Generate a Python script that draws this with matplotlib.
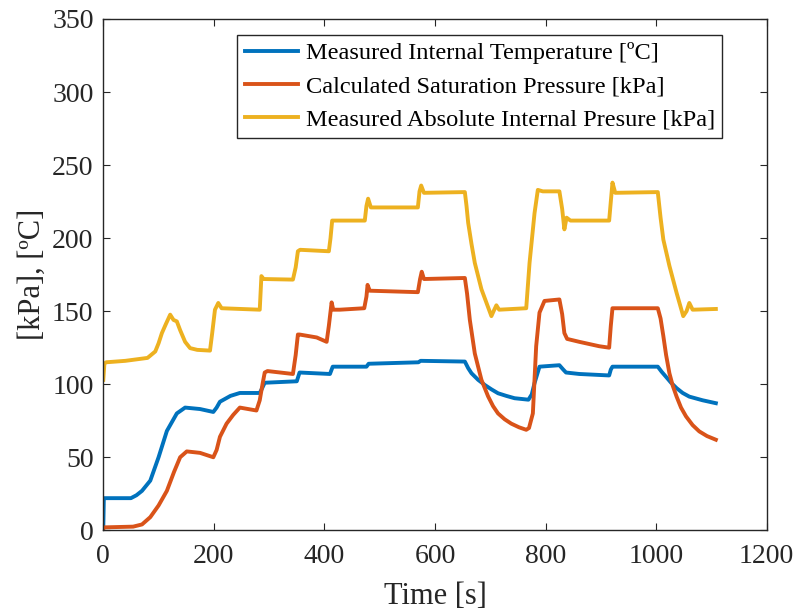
import matplotlib
matplotlib.use("Agg")
import matplotlib.pyplot as plt

# ---- data ----
t_temp = [0, 1, 50, 60, 70, 85, 100, 115, 133, 148, 175, 199, 205, 211, 230, 247, 283, 287, 292,
          350, 355, 410, 415, 476, 480, 570, 574, 654, 660, 666, 678, 690, 702, 714, 729, 744, 769,
          775, 780, 789, 825, 832, 837, 861, 915, 918, 921, 1003, 1010, 1018, 1027, 1037, 1048,
          1060, 1084, 1108]
temp = [2, 22, 22, 24, 27, 34, 50, 68, 80, 84, 83, 81, 84, 88, 92, 94, 94, 97, 101,
        102, 108, 107, 112, 112, 114, 115, 116, 115.5, 111, 107.5, 103, 99.5, 96.5, 93.8, 92, 90.4, 89.4,
        93, 100.7, 112, 113, 110, 108, 107, 106, 110, 112, 112, 108.5, 105, 101, 97.3, 94,
        91.5, 89, 87]

t_sat = [0, 1, 54, 70, 85, 100, 115, 128, 139, 151, 175, 199, 205, 211, 223, 235, 247, 277, 283,
         288, 292, 297, 343, 348, 352, 355, 386, 404, 408, 413, 416, 428, 472, 476, 478, 482, 569,
         573, 576, 580, 654, 658, 663, 672, 684, 696, 705, 714, 726, 738, 752, 765, 770, 777, 783,
         789, 798, 825, 830, 834, 839, 861, 873, 897, 915, 918, 921, 1003, 1008, 1013, 1018, 1024,
         1030, 1037, 1045, 1054, 1066, 1078, 1092, 1108]
sat = [1, 2, 2.5, 4, 9, 17, 27, 40, 50, 54, 53, 50, 55, 64, 73, 79, 84, 82, 89,
       100, 108, 109, 107, 120, 134, 134, 132, 129, 140, 156, 151, 151, 152, 160, 168, 164, 163,
       172, 177, 172, 172.7, 162, 144, 121, 103, 91.7, 85, 80, 76, 73, 70.5, 68.8, 70, 80, 126,
       149, 157, 158, 148, 135, 131, 129, 128, 126, 125, 140, 152, 152, 145, 133, 120, 107.5,
       99, 91.5, 84, 78, 72, 67.7, 64.5, 62]

t_pres = [0, 2, 5, 40, 80, 94, 100, 106, 113, 121, 127, 133, 139, 148, 157, 170, 193, 197, 202, 208,
          214, 283, 286, 290, 343, 348, 352, 356, 408, 411, 414, 473, 476, 479, 484, 569, 572, 575,
          580, 654, 657, 660, 666, 672, 684, 702, 706, 711, 716, 765, 771, 780, 786, 795, 825, 830,
          834, 838, 845, 915, 918, 921, 926, 1003, 1008, 1013, 1024, 1037, 1049, 1055, 1060, 1066,
          1108]
pres = [103, 114, 115, 116, 118, 122.4, 128, 135, 141, 147.6, 144, 143, 137, 129, 124.7, 123.5, 123,
        135, 151, 155.6, 152, 151, 174, 172, 171.6, 180, 191, 192, 191, 200, 212, 212, 222, 227, 221,
        221, 232, 236, 231, 231.5, 222, 210.5, 196, 183, 165, 146.6, 150, 154, 151, 152, 183, 217,
        233, 232, 232, 220, 206, 214, 212, 212, 225, 238, 231, 231.5, 214, 199, 181, 162.5, 146.6,
        150, 155.6, 151, 151.5]

labels = ["Measured Internal Temperature [ºC]",
          "Calculated Saturation Pressure [kPa]",
          "Measured Absolute Internal Presure [kPa]"]
colors = ["#0072BD", "#D95319", "#EDB120"]

x_ticks = [0, 200, 400, 600, 800, 1000, 1200]
y_ticks = [0, 50, 100, 150, 200, 250, 300, 350]

# ---- plot ----
plt.rcParams['font.family'] = ['Liberation Serif', 'DejaVu Serif']

fig = plt.figure(figsize=(7.97, 6.12), dpi=100)
ax = fig.add_axes([0.1296, 0.1335, 0.8324, 0.8355])

ax.plot(t_temp, temp, color=colors[0], lw=2.8, label=labels[0])
ax.plot(t_sat, sat, color=colors[1], lw=2.8, label=labels[1])
ax.plot(t_pres, pres, color=colors[2], lw=2.8, label=labels[2])

ax.set_xlim(0, 1200)
ax.set_ylim(0, 350)
ax.set_xticks(x_ticks)
ax.set_yticks(y_ticks)
ax.tick_params(direction='in', length=5, width=0.8, labelsize=20, colors='#262626',
               top=True, right=True)
ax.tick_params(axis='x', pad=10)
ax.tick_params(axis='y', pad=7)
for s in ax.spines.values():
    s.set_color('#262626')
    s.set_linewidth(1.0)

ax.set_xlabel("Time [s]", fontsize=22, color='#262626', labelpad=9)
ax.set_ylabel("[kPa], [ºC]", fontsize=22, color='#262626', labelpad=4)

leg = ax.legend(loc='upper right', bbox_to_anchor=(0.933, 0.969), fontsize=17.6,
                frameon=True, fancybox=False, edgecolor='#262626', framealpha=1,
                handlelength=2.2, handletextpad=0.3, labelspacing=0.45,
                borderpad=0.3, borderaxespad=0)
leg.get_frame().set_linewidth(1.0)

fig.savefig("out.png", dpi=100)
